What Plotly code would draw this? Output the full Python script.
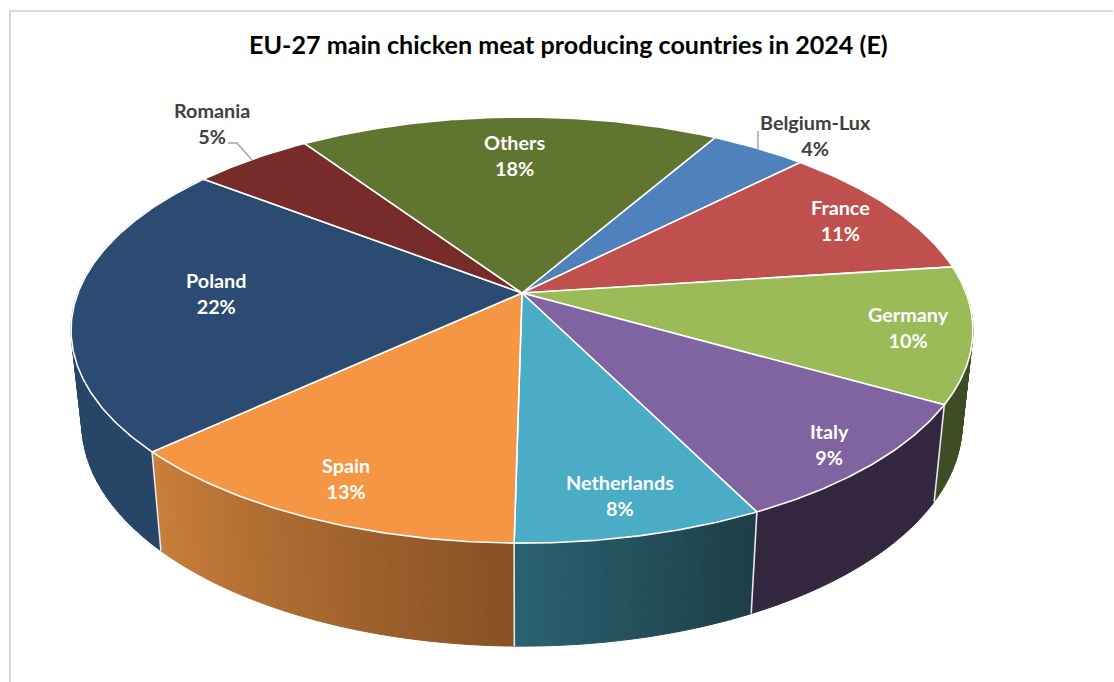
import math
import plotly.graph_objects as go

TITLE = "EU-27 main chicken meat producing countries in 2024 (E)"
countries = ["Belgium-Lux", "France", "Germany", "Italy", "Netherlands", "Spain", "Poland", "Romania", "Others"]
shares = [4.1, 10.5, 10.3, 9.4, 7.6, 12.9, 22.3, 5.1, 17.8]
share_labels = ["4%", "11%", "10%", "9%", "8%", "13%", "22%", "5%", "18%"]

top_colors = ["#4f81bd", "#c0504d", "#9bbb59", "#8064a2", "#4bacc6", "#f59645", "#2b4b73", "#772c2a", "#5f7530"]
wall_from = {"Germany": "#3f4d25", "Italy": "#33273f", "Netherlands": "#1c3e47", "Spain": "#875124", "Poland": "#264567"}
wall_to = {"Germany": "#3f4d25", "Italy": "#33273f", "Netherlands": "#2a6170", "Spain": "#c97e3b", "Poland": "#264567"}
label_xy = [(815.5, 135), (840, 220), (908, 327), (829, 444), (620, 495), (345.5, 478), (216, 293), (212, 123), (514, 155)]
label_dark = {"Belgium-Lux", "Romania"}

# Perspective model of the disc
CX, CY = 522.0, 293.0
F, G, K = 444.1, 206.6, 0.174
F_LOW, G_LOW, Y_LOW = 0.976 * F, 1.044 * G, 385.0
START = 30.0


def project(theta, low=False):
    u, v = math.sin(math.radians(theta)), math.cos(math.radians(theta))
    w = 1 + K * v
    if low:
        return CX + F_LOW * u / w, Y_LOW - G_LOW * v / w
    return CX + F * u / w, CY - G * v / w


def mix(a, b, t):
    ca = [int(a[i:i + 2], 16) for i in (1, 3, 5)]
    cb = [int(b[i:i + 2], 16) for i in (1, 3, 5)]
    return "#%02x%02x%02x" % tuple(round(p + (q - p) * t) for p, q in zip(ca, cb))


total = sum(shares)
edges = [START]
for s in shares:
    edges.append(edges[-1] + s / total * 360)

fig = go.Figure()


def poly(xs, ys, fill, line=None, width=1):
    fig.add_trace(go.Scatter(x=xs, y=ys, mode="lines", fill="toself", fillcolor=fill,
                             line=dict(color=line or fill, width=width), hoverinfo="skip", showlegend=False))


# Side walls
STEPS = 40
for i, name in enumerate(countries):
    if name not in wall_from:
        continue
    a0, a1 = edges[i], edges[i + 1]
    for s in range(STEPS):
        t0, t1 = a0 + (a1 - a0) * s / STEPS, a0 + (a1 - a0) * (s + 1) / STEPS
        p = [project(t0), project(t1), project(t1, True), project(t0, True), project(t0)]
        poly([q[0] for q in p], [q[1] for q in p], mix(wall_from[name], wall_to[name], s / (STEPS - 1)))

# Wall dividers
for i in range(3, 7):
    a, b = project(edges[i]), project(edges[i], True)
    fig.add_trace(go.Scatter(x=[a[0], b[0]], y=[a[1], b[1]], mode="lines",
                             line=dict(color="#e8e8e8", width=1.6), hoverinfo="skip", showlegend=False))

# Top face
for i, name in enumerate(countries):
    n = max(8, int(edges[i + 1] - edges[i]) * 2)
    arc = [project(edges[i] + (edges[i + 1] - edges[i]) * j / n) for j in range(n + 1)]
    xs = [CX] + [q[0] for q in arc] + [CX]
    ys = [CY] + [q[1] for q in arc] + [CY]
    poly(xs, ys, top_colors[i], "#ffffff", 1.6)

annotations = [dict(text=f"<b>{TITLE}</b>", x=568.5, y=43.5, xref="x", yref="y", showarrow=False,
                    font=dict(family="Lato", size=25.1, color="#000000"))]
for name, pct, (x, y) in zip(countries, share_labels, label_xy):
    annotations.append(dict(text=f"<b>{name}<br>{pct}</b>", x=x, y=y, xref="x", yref="y", showarrow=False,
                            align="center",
                            font=dict(family="Lato", size=19.8,
                                      color="#404040" if name in label_dark else "#ffffff")))

BORDER = "#d9d9d9"
LEADER = "#a6a6a6"
shapes = [
    dict(type="line", x0=9, x1=1113, y0=11, y1=11, xref="x", yref="y", line=dict(color=BORDER, width=2), layer="below"),
    dict(type="line", x0=10, x1=10, y0=10, y1=682, xref="x", yref="y", line=dict(color=BORDER, width=2), layer="below"),
    dict(type="path", path="M228,143 L237,143 L252,160", xref="x", yref="y", line=dict(color=LEADER, width=1.5)),
    dict(type="line", x0=758, x1=758, y0=131, y1=150, xref="x", yref="y", line=dict(color=LEADER, width=1.5)),
]

fig.update_layout(
    width=1114, height=682, margin=dict(l=0, r=0, t=0, b=0),
    paper_bgcolor="#ffffff", plot_bgcolor="#ffffff", showlegend=False,
    xaxis=dict(range=[0, 1114], visible=False, fixedrange=True),
    yaxis=dict(range=[682, 0], visible=False, fixedrange=True),
    annotations=annotations, shapes=shapes,
)
fig.write_html("out.html", config=dict(displayModeBar=False),
               post_script="document.body.style.margin='0';document.body.style.overflow='hidden';")
